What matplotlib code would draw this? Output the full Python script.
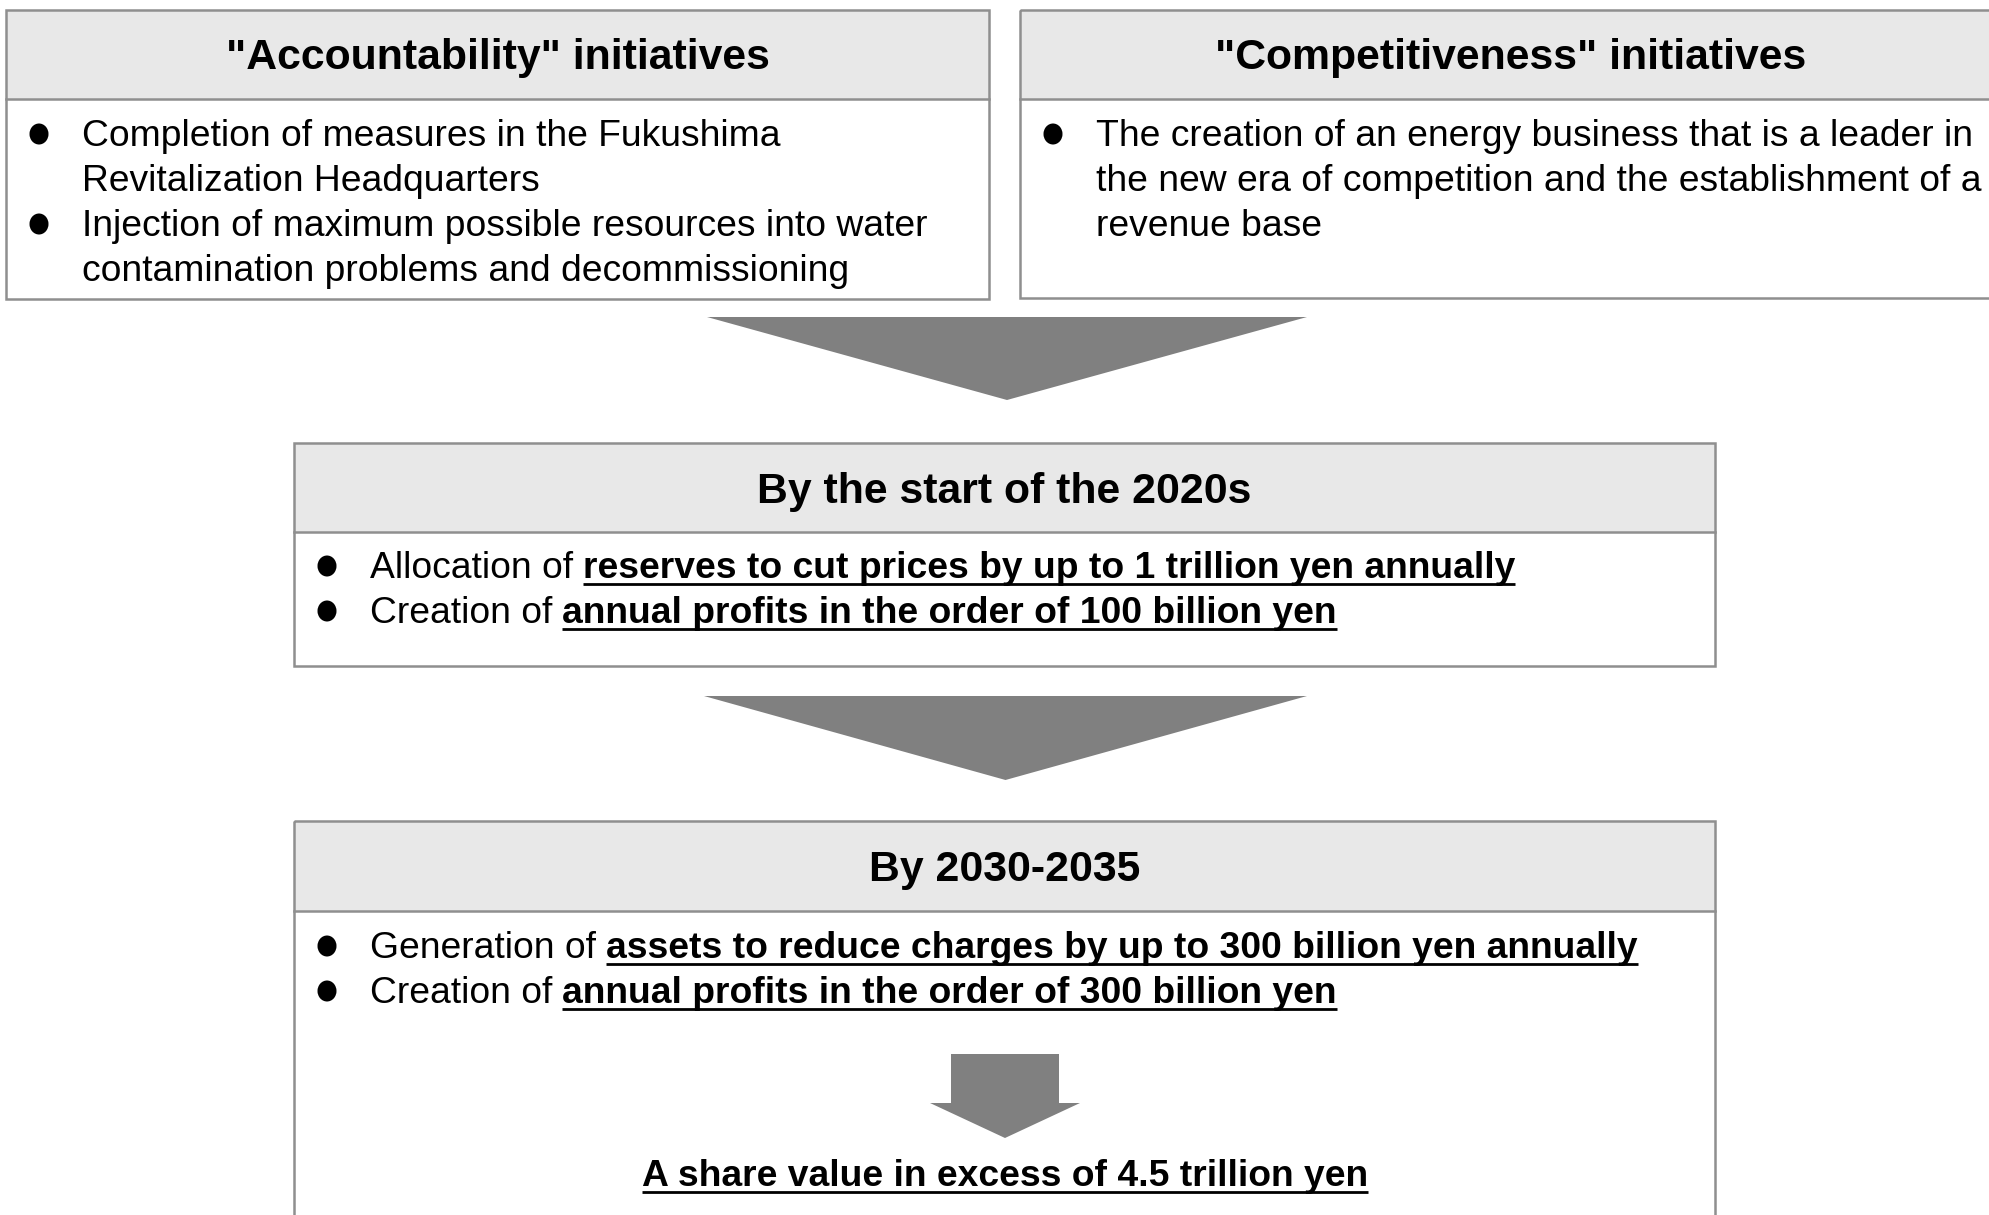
import matplotlib
matplotlib.use("Agg")
import matplotlib.pyplot as plt
import matplotlib.patches as patches

# ---------------- TEXT ----------------
top_titles = ['"Accountability" initiatives', '"Competitiveness" initiatives']

accountability_items = [
    ["Completion of measures in the Fukushima", "Revitalization Headquarters"],
    ["Injection of maximum possible resources into water",
     "contamination problems and decommissioning"],
]
competitiveness_items = [
    ["The creation of an energy business that is a leader in",
     "the new era of competition and the establishment of a",
     "revenue base"],
]

stage_titles = ["By the start of the 2020s", "By 2030-2035"]
stage1_items = [
    ("Allocation of", "reserves to cut prices by up to 1 trillion yen annually"),
    ("Creation of", "annual profits in the order of 100 billion yen"),
]
stage2_items = [
    ("Generation of", "assets to reduce charges by up to 300 billion yen annually"),
    ("Creation of", "annual profits in the order of 300 billion yen"),
]
final_text = "A share value in excess of 4.5 trillion yen"

# ---------------- STYLE ----------------
FONT = "Liberation Sans"
BORDER = "#8f8f8f"
HEADER_FILL = "#e8e8e8"
ARROW = "#808080"
BODY_SIZE = 26.8
HEAD_SIZE = 30.8
LINE_GAP = 45

W, H = 1989, 1215
fig = plt.figure(figsize=(W / 100, H / 100), dpi=100)
ax = fig.add_axes([0, 0, 1, 1])
ax.set_xlim(0, W)
ax.set_ylim(H, 0)
ax.axis("off")


def box(x0, x1, y0, head_y, y1, title):
    ax.add_patch(patches.Rectangle((x0, y0), x1 - x0, head_y - y0,
                                   facecolor=HEADER_FILL, edgecolor="none"))
    ax.add_patch(patches.Rectangle((x0, y0), x1 - x0, y1 - y0,
                                   facecolor="none", edgecolor=BORDER, lw=1.8))
    ax.plot([x0, x1], [head_y, head_y], color=BORDER, lw=1.8)
    # caps centred in the header band
    ax.text((x0 + x1) / 2, (y0 + head_y) / 2 + 15, title, fontsize=HEAD_SIZE,
            fontweight="bold", family=FONT, ha="center", va="baseline")


def bullet(x, baseline):
    ax.add_patch(patches.Ellipse((x, baseline - 12), 19, 21, color="black", lw=0))


def plain_bullets(items, bx, tx, first_baseline):
    y = first_baseline
    for lines in items:
        bullet(bx, y)
        for line in lines:
            ax.text(tx, y, line, fontsize=BODY_SIZE, family=FONT,
                    ha="left", va="baseline")
            y += LINE_GAP


def underline(t, baseline):
    bb = t.get_window_extent(renderer)
    inv = ax.transData.inverted()
    xa, _ = inv.transform((bb.x0, bb.y0))
    xb, _ = inv.transform((bb.x1, bb.y0))
    ax.plot([xa, xb], [baseline + 6, baseline + 6], color="black", lw=2.0,
            solid_capstyle="butt")


def mixed_bullets(items, bx, tx, first_baseline):
    y = first_baseline
    for normal, bold in items:
        bullet(bx, y)
        t = ax.text(tx, y, normal, fontsize=BODY_SIZE, family=FONT,
                    ha="left", va="baseline")
        bb = t.get_window_extent(renderer)
        x_end = ax.transData.inverted().transform((bb.x1, bb.y0))[0]
        tb = ax.text(x_end + 10, y, bold, fontsize=BODY_SIZE, family=FONT,
                     fontweight="bold", ha="left", va="baseline")
        underline(tb, y)
        y += LINE_GAP


def down_triangle(xl, xr, top, apex):
    ax.add_patch(patches.Polygon([(xl, top), (xr, top), ((xl + xr) / 2, apex)],
                                 closed=True, facecolor=ARROW, edgecolor="none"))


renderer = fig.canvas.get_renderer()

# ---------------- TOP BOXES ----------------
box(6, 989, 10, 99, 299, top_titles[0])
box(1020, 2002, 10, 99, 298, top_titles[1])
plain_bullets(accountability_items, 39, 82, 146)
plain_bullets(competitiveness_items, 1053, 1096, 146)

down_triangle(707, 1307, 317, 400)

# ---------------- STAGE 1 ----------------
box(294, 1715, 443, 532, 666, stage_titles[0])
mixed_bullets(stage1_items, 327, 370, 578)

down_triangle(704, 1307, 696, 780)

# ---------------- STAGE 2 ----------------
box(294, 1715, 821, 911, 1240, stage_titles[1])
mixed_bullets(stage2_items, 327, 370, 958)

# small block arrow
ax.add_patch(patches.Polygon([(951, 1054), (1059, 1054), (1059, 1103), (1080, 1103),
                              (1005, 1138), (930, 1103), (951, 1103)],
                             closed=True, facecolor=ARROW, edgecolor="none"))

ft = ax.text(1005, 1186, final_text, fontsize=BODY_SIZE, family=FONT,
             fontweight="bold", ha="center", va="baseline")
underline(ft, 1186)

fig.savefig("out.png", dpi=100)
